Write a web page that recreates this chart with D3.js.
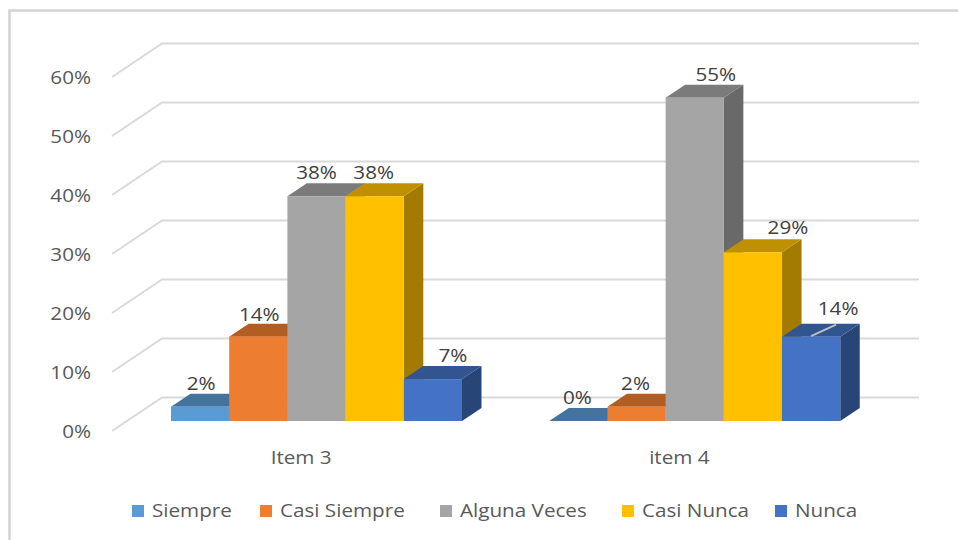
<!DOCTYPE html>
<html><head><meta charset="utf-8">
<script src="https://cdn.jsdelivr.net/npm/d3@7"></script>
<style>html,body{margin:0;padding:0;background:#fff}svg{display:block}text{font-family:"Open Sans","DejaVu Sans",sans-serif}</style>
</head><body><svg id="c" width="958" height="540"></svg>
<script>
const categories = ["Item 3", "item 4"];
const seriesNames = ["Siempre", "Casi Siempre", "Alguna Veces", "Casi Nunca", "Nunca"];
const item3Values = [2.4, 14.3, 38.1, 38.1, 7.1];
const item4Values = [0, 2.4, 54.8, 28.6, 14.3];
const dataLabels3 = ["2%", "14%", "38%", "38%", "7%"];
const dataLabels4 = ["0%", "2%", "55%", "29%", "14%"];
const yTicks = [0, 10, 20, 30, 40, 50, 60];
const frontColors = ["#5b9bd5", "#ed7d31", "#a5a5a5", "#ffc000", "#4472c4"];
const topColors = ["#44739e", "#b25d22", "#7b7b7b", "#bf9000", "#325490"];
const sideColors = ["#3a6487", "#9a5020", "#696969", "#a37b00", "#284578"];

// manual layout (not data)
const legendX = [132, 260, 440, 622, 775];
const labelDx = [[1, 1, 0, -1, 20], [-1, -1, 21, 35, 27]];
const labelDy = [[-17, -16, -17, -17, -17], [-17, -17, -17, -18, -22]];

const svg = d3.select("#c");
const depthX = 19.5, depthY = 13;
const wallX = 50, wallY = 33.5;
const stretch = 1.18;
const y = d3.scaleLinear().domain([0, 60]).range([421, 67]);
const x0 = d3.scaleBand().domain(categories).range([112, 868.5]);
const x1 = d3.scaleBand().domain(seriesNames).range([59, 350]);
const W = x1.bandwidth();

function label(x, yy, str, anchor, fill) {
  svg.append("text")
    .attr("transform", `translate(${x},${yy}) scale(${stretch},1)`)
    .attr("text-anchor", anchor).attr("font-size", 17.5).attr("fill", fill).text(str);
}

// frame: left and top edges only
svg.append("path").attr("fill", "none").attr("stroke", "#d4d4d4").attr("stroke-width", 2.5)
  .attr("d", d3.line()([[9.5, 540], [9.5, 10.5], [958, 10.5]]));

// gridlines and value axis
yTicks.forEach(t => {
  const yy = y(t) + 10;
  svg.append("path")
    .attr("d", d3.line()([[112, yy], [112 + wallX, yy - wallY], [919, yy - wallY]]))
    .attr("fill", "none").attr("stroke", "#d9d9d9").attr("stroke-width", 2);
  label(91, yy + 6.5, t + "%", "end", "#595959");
});

// bars
const rows = [item3Values, item4Values];
const labels = [dataLabels3, dataLabels4];
categories.forEach((c, ci) => {
  const order = d3.range(seriesNames.length);
  const g = svg.append("g");
  order.forEach(i => {
    const v = rows[ci][i];
    const xl = x0(c) + x1(seriesNames[i]), xr = xl + W, yt = y(v), yb = y(0);
    g.append("path").attr("fill", sideColors[i])
      .attr("d", d3.line()([[xr, yb], [xr + depthX, yb - depthY], [xr + depthX, yt - depthY], [xr, yt]]) + "Z");
    g.append("path").attr("fill", topColors[i])
      .attr("d", d3.line()([[xl, yt], [xl + depthX, yt - depthY], [xr + depthX, yt - depthY], [xr, yt]]) + "Z");
    if (v > 0) g.append("rect").attr("x", xl).attr("y", yt).attr("width", W).attr("height", yb - yt).attr("fill", frontColors[i]);
  });
});

// data labels above everything
categories.forEach((c, ci) => {
  seriesNames.forEach((s, i) => {
    label(x0(c) + x1(s) + W / 2 + labelDx[ci][i], y(rows[ci][i]) + labelDy[ci][i], labels[ci][i], "middle", "#404040");
  });
});

// leader line on item 4 / Nunca
const nx = x0(categories[1]) + x1(seriesNames[4]);
svg.append("path").attr("fill", "none").attr("stroke", "#bfbfbf").attr("stroke-width", 2)
  .attr("d", d3.line()([[nx + 29, y(item4Values[4]) - 0.5], [nx + 54, y(item4Values[4]) - 12]]));

// category labels
categories.forEach(c => label(x0(c) + x0.bandwidth() / 2, 464, c, "middle", "#595959"));

// legend
seriesNames.forEach((s, i) => {
  svg.append("rect").attr("x", legendX[i]).attr("y", 505).attr("width", 12).attr("height", 12).attr("fill", frontColors[i]);
  label(legendX[i] + 20, 517, s, "start", "#595959");
});
</script></body></html>
